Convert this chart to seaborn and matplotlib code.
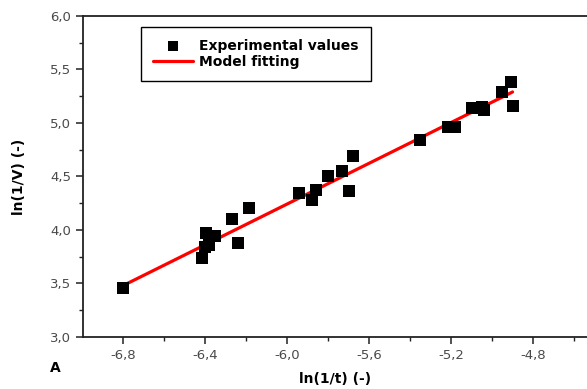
import matplotlib
matplotlib.use("Agg")
import matplotlib.pyplot as plt
import seaborn as sns
import pandas as pd
from matplotlib.ticker import FuncFormatter, MultipleLocator

# Experimental values
exp_x = [-6.80, -6.415, -6.40, -6.38, -6.395, -6.35, -6.27, -6.24, -6.185,
         -5.94, -5.88, -5.86, -5.80, -5.73, -5.70, -5.68,
         -5.351, -5.215, -5.18, -5.098, -5.049, -5.039, -4.951, -4.907, -4.90]
exp_y = [3.46, 3.74, 3.84, 3.86, 3.97, 3.94, 4.10, 3.88, 4.21,
         4.35, 4.28, 4.37, 4.50, 4.55, 4.36, 4.69,
         4.84, 4.96, 4.96, 5.14, 5.15, 5.12, 5.29, 5.38, 5.16]
# Model fitting line endpoints
fit_x = [-6.80, -4.90]
fit_y = [3.48, 5.29]

sns.set_theme(style="ticks")
plt.rcParams['font.family'] = ['DejaVu Sans']

fig = plt.figure(figsize=(5.87, 3.89), dpi=100)
ax = fig.add_axes([0.1414, 0.1337, 0.8586, 0.8252])

sns.lineplot(x=fit_x, y=fit_y, color="#ff0000", linewidth=2.3, ax=ax,
             label="Model fitting", zorder=2)
sns.scatterplot(x=exp_x, y=exp_y, marker="s", s=64, color="black",
                edgecolor="black", linewidth=0, ax=ax,
                label="Experimental values", zorder=3)

ax.set_xlim(-6.995, -4.537)
ax.set_ylim(3.0, 6.0)
ax.xaxis.set_major_locator(MultipleLocator(0.4))
ax.xaxis.set_minor_locator(MultipleLocator(0.2))
ax.yaxis.set_major_locator(MultipleLocator(0.5))
ax.yaxis.set_minor_locator(MultipleLocator(0.25))
fmt = FuncFormatter(lambda v, p: f"{v:.1f}".replace('.', ',').replace('\u2212', '-'))
ax.xaxis.set_major_formatter(fmt)
ax.yaxis.set_major_formatter(fmt)

ax.spines['right'].set_visible(False)
for s in ['left', 'bottom', 'top']:
    ax.spines[s].set_linewidth(1.3)
    ax.spines[s].set_color('#222222')
ax.tick_params(axis='both', which='major', direction='out', length=5, width=1.1,
               labelsize=9.5, labelcolor='#4a4a4a', color='#222222')
ax.tick_params(axis='both', which='minor', direction='out', length=3, width=1.0,
               color='#222222')

ax.set_xlabel("ln(1/t) (-)", fontsize=10, fontweight='bold', labelpad=7, color='black')
ax.set_ylabel("ln(1/V) (-)", fontsize=10, fontweight='bold', labelpad=17, color='black')

handles, labels = ax.get_legend_handles_labels()
order = [labels.index("Experimental values"), labels.index("Model fitting")]
leg = ax.legend([handles[i] for i in order], [labels[i] for i in order],
                loc='upper left', bbox_to_anchor=(0.115, 0.966),
                frameon=True, fancybox=False, framealpha=1,
                edgecolor='black', prop={'weight': 'bold', 'size': 10},
                handlelength=2.9, borderpad=0.85, labelspacing=0.15,
                handletextpad=0.45, borderaxespad=0, markerscale=0.85,
                labelcolor='black')
leg.get_frame().set_linewidth(1.0)

fig.text(50 / 587, 1 - 368 / 389, "A", fontsize=10, fontweight='bold',
         ha='left', va='center', color='black')

fig.savefig("out.png", dpi=100)
